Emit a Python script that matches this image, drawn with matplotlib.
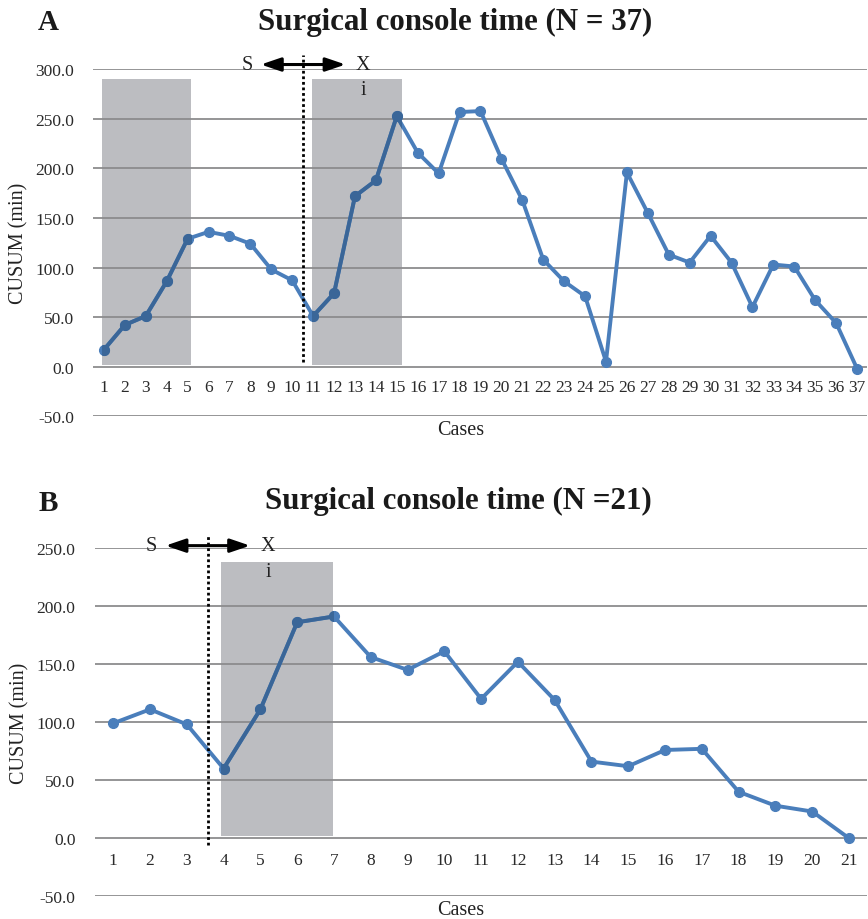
import numpy as np
import matplotlib
matplotlib.use('Agg')
import matplotlib.pyplot as plt
from matplotlib.patches import Rectangle

plt.rcParams['font.family'] = 'Liberation Serif'

line_color = '#4a7ebb'
dark_color = '#3a6698'
shade_color = '#bcbdc1'
grid_color = '#8c8c8e'

# panel A
cases_a = list(range(1, 38))
cusum_a = [17, 42, 51, 86, 129, 136, 132, 124, 98, 87,
           51, 74, 172, 188, 253, 216, 195, 257, 258, 210,
           168, 108, 86, 71, 5, 196, 155, 113, 105, 132,
           105, 60, 103, 101, 67, 44, -2]
yticks_a = [-50, 0, 50, 100, 150, 200, 250, 300]
shades_a = [(0.9, 5.15), (10.95, 15.25)]
split_a = 10.5

# panel B
cases_b = list(range(1, 22))
cusum_b = [99, 111, 98, 60, 111, 186, 191, 156, 145, 161,
           120, 152, 119, 66, 62, 76, 77, 40, 28, 23, 0]
yticks_b = [-50, 0, 50, 100, 150, 200, 250]
shades_b = [(3.92, 6.96)]
split_b = 3.57


def panel(ax, cases, cusum, yticks, shades, split, shade_top, arrow, label_pad):
    n = len(cases)
    ax.set_xlim(0.5, n + 0.5)
    ax.set_ylim(yticks[0], yticks[-1])
    for s in ax.spines.values():
        s.set_visible(False)
    ax.spines['bottom'].set_position(('data', 0))
    ax.set_yticks(yticks)
    ax.set_yticklabels(['{:.1f}'.format(v) for v in yticks], fontsize=12.5,
                       color='#2a2a2a')
    ax.set_xticks(cases)
    ax.set_xticklabels([str(c) for c in cases], fontsize=12.5, color='#2a2a2a')
    ax.tick_params(length=0)
    ax.tick_params(axis='x', pad=label_pad)
    ax.tick_params(axis='y', pad=14)
    ax.yaxis.grid(True, color=grid_color, lw=1.3, zorder=1)
    ax.set_axisbelow(True)

    ax.plot(cases, cusum, color=line_color, lw=2.8, marker='o', ms=7,
            zorder=3, clip_on=False)
    for x0, x1 in shades:
        r = Rectangle((x0, 2), x1 - x0, shade_top - 2, facecolor=shade_color,
                      edgecolor='none', zorder=0.5)
        ax.add_patch(r)
        clip = Rectangle((x0, 2), x1 - x0, shade_top - 2, transform=ax.transData)
        ln, = ax.plot(cases, cusum, color=dark_color, lw=2.8, marker='o',
                      ms=7, zorder=4)
        ln.set_clip_path(clip)

    ax.plot([split, split], [arrow['ylo'], arrow['ytop']], color='black',
            lw=2, ls=(0, (1, 1)), zorder=5, clip_on=False)
    ax.annotate('', xy=(arrow['x0'], arrow['y']), xytext=(arrow['x1'], arrow['y']),
                arrowprops=dict(arrowstyle='<|-|>,head_length=0.5,head_width=0.17',
                                color='black', lw=2.2,
                                mutation_scale=24, shrinkA=0, shrinkB=0),
                annotation_clip=False, zorder=6)
    ax.text(arrow['sx'], arrow['y'], 'S', fontsize=14.5, ha='center',
            va='center', color='#222222')
    ax.text(arrow['xx'], arrow['y'], 'X', fontsize=14.5, ha='center',
            va='center', color='#222222')
    ax.text(arrow['xx'], arrow['iy'], 'i', fontsize=14.5, ha='center',
            va='center', color='#222222')

    ax.text(0.474, -0.01, 'Cases', transform=ax.transAxes, fontsize=14.5,
            ha='center', va='top', color='#222222')
    ax.set_ylabel('CUSUM (min)', fontsize=14.5, color='#222222', labelpad=5)


fig = plt.figure(figsize=(8.68, 9.2), dpi=100)
ax_a = fig.add_axes([0.1077, 0.5467, 0.8917, 0.3767])
ax_b = fig.add_axes([0.1093, 0.0247, 0.8900, 0.3786])

panel(ax_a, cases_a, cusum_a, yticks_a, shades_a, split_a, 290,
      dict(ylo=5, ytop=315, y=305, x0=8.5, x1=12.55, sx=7.83, xx=13.38, iy=280),
      9)
panel(ax_b, cases_b, cusum_b, yticks_b, shades_b, split_b, 238,
      dict(ylo=-6, ytop=262, y=252, x0=2.42, x1=4.72, sx=2.04, xx=5.21, iy=230),
      10)

fig.text(455 / 868, 1 - 22 / 920, 'Surgical console time (N = 37)',
         fontsize=22.2, fontweight='bold', ha='center', va='center', color='#1a1a1a')
fig.text(48 / 868, 1 - 23 / 920, 'A', fontsize=21, fontweight='bold',
         ha='center', va='center', color='#1a1a1a')
fig.text(458 / 868, 1 - 501 / 920, 'Surgical console time (N =21)',
         fontsize=22.2, fontweight='bold', ha='center', va='center', color='#1a1a1a')
fig.text(48 / 868, 1 - 504 / 920, 'B', fontsize=21, fontweight='bold',
         ha='center', va='center', color='#1a1a1a')

fig.savefig('out.png', dpi=100)
